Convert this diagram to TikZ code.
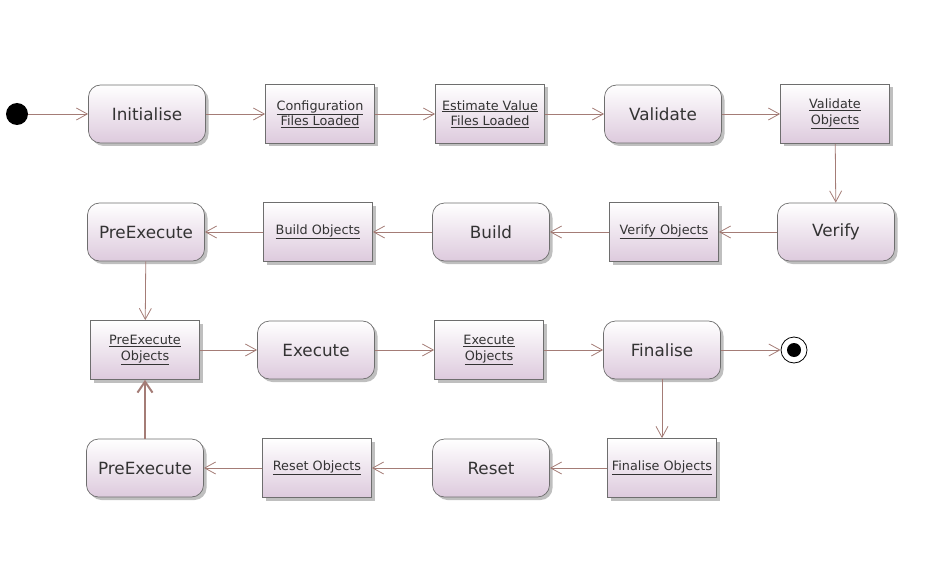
\documentclass[tikz,border=0pt]{standalone}
\usepackage{fontspec}
\setmainfont{DejaVu Sans}
\usetikzlibrary{arrows.meta,shadows,positioning}
\definecolor{flowline}{HTML}{A47C76}
\definecolor{boxfill}{HTML}{DDCADD}
\definecolor{boxline}{HTML}{6E6E6E}
\definecolor{boxtext}{HTML}{333333}
\tikzset{
  boxbase/.style={draw=boxline, line width=0.7pt, top color=white, bottom color=boxfill,
    text=boxtext, align=center, inner sep=0pt,
    drop shadow={shadow xshift=3pt, shadow yshift=-3pt, fill=black, opacity=0.25}},
  state/.style={boxbase, rounded corners=12pt, minimum width=117pt, minimum height=58pt,
    font=\fontsize{16.8}{19}\selectfont},
  objbox/.style={boxbase, minimum width=109pt, minimum height=59pt,
    font=\fontsize{12.8}{15.5}\selectfont},
  flow/.style={draw=flowline, line width=0.8pt, -{Straight Barb[length=11pt, width=12pt]}},
  thickflow/.style={draw=flowline, line width=2pt, -{Straight Barb[length=11pt, width=15pt]}},
}
\begin{document}
\begin{tikzpicture}[x=1pt, y=-1pt]
\useasboundingbox (0,0) rectangle (941,580);
% row 1
\node[circle, fill=black, minimum size=22pt, inner sep=0pt] (start) at (17,114) {};
\node[state] (init) at (147,114) {Initialise};
\node[objbox] (conf) at (320,114) {\underline{Configuration}\\\underline{Files Loaded}};
\node[objbox] (estim) at (490,114) {\underline{Estimate Value}\\\underline{Files Loaded}};
\node[state] (valid) at (663,114) {Validate};
\node[objbox] (validobj) at (835,114) {\underline{Validate}\\\underline{Objects}};
% row 2
\node[state] (verify) at (836,232) {Verify};
\node[objbox] (verifyobj) at (664,232) {\underline{Verify Objects}};
\node[state] (build) at (491,232) {Build};
\node[objbox] (buildobj) at (318,232) {\underline{Build Objects}};
\node[state] (preexec) at (146,232) {PreExecute};
% row 3
\node[objbox] (preexecobj) at (145,350) {\underline{PreExecute}\\\underline{Objects}};
\node[state] (exec) at (316,350) {Execute};
\node[objbox] (execobj) at (489,350) {\underline{Execute}\\\underline{Objects}};
\node[state] (final) at (662,350) {Finalise};
\node[circle, draw=black, fill=white, line width=0.8pt, minimum size=26pt, inner sep=0pt] (stop) at (794,350) {};
\fill[black] (stop.center) circle (7pt);
% row 4
\node[state] (preexecb) at (145,468) {PreExecute};
\node[objbox] (resetobj) at (317,468) {\underline{Reset Objects}};
\node[state] (reset) at (491,468) {Reset};
\node[objbox] (finalobj) at (662,468) {\underline{Finalise Objects}};
% connectors
\draw[flow] (start) -- (init);
\draw[flow] (init) -- (conf);
\draw[flow] (conf) -- (estim);
\draw[flow] (estim) -- (valid);
\draw[flow] (valid) -- (validobj);
\draw[flow] (validobj) -- (verify);
\draw[flow] (verify) -- (verifyobj);
\draw[flow] (verifyobj) -- (build);
\draw[flow] (build) -- (buildobj);
\draw[flow] (buildobj) -- (preexec);
\draw[flow] (preexec) -- (preexecobj);
\draw[flow] (preexecobj) -- (exec);
\draw[flow] (exec) -- (execobj);
\draw[flow] (execobj) -- (final);
\draw[flow] (final) -- (stop);
\draw[flow] (final) -- (finalobj);
\draw[flow] (finalobj) -- (reset);
\draw[flow] (reset) -- (resetobj);
\draw[flow] (resetobj) -- (preexecb);
\draw[thickflow] (preexecb) -- (preexecobj);
\end{tikzpicture}
\end{document}
